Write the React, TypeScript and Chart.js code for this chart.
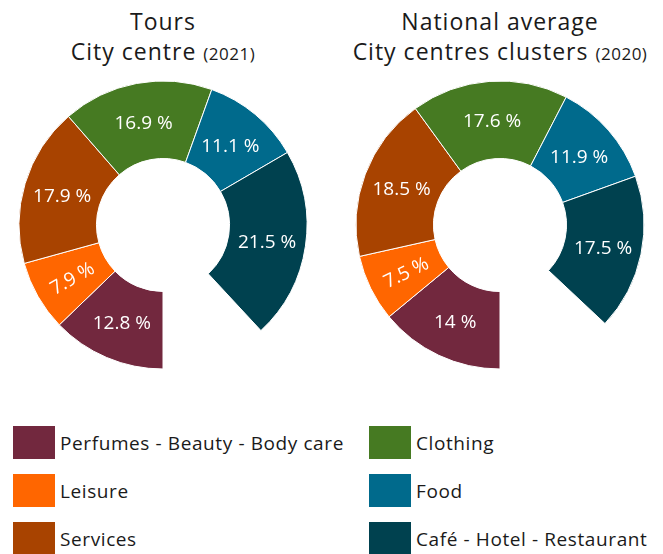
import React, { useEffect, useRef } from "react";
import { Chart, registerables } from "chart.js";

Chart.register(...registerables);

const categories = [
  "Perfumes - Beauty - Body care",
  "Leisure",
  "Services",
  "Clothing",
  "Food",
  "Café - Hotel - Restaurant",
];
const toursValues = [12.8, 7.9, 17.9, 16.9, 11.1, 21.5];
const nationalValues = [14, 7.5, 18.5, 17.6, 11.9, 17.5];
const colors = ["#72283E", "#FF6600", "#A84300", "#467A22", "#006A8C", "#00414F"];

const FONT = "'Open Sans', sans-serif";

const labelPlugin = {
  id: "sliceLabels",
  afterDatasetsDraw(chart: any) {
    const ctx = chart.ctx;
    const ds = chart.data.datasets[0];
    const meta = chart.getDatasetMeta(0);
    meta.data.forEach((arc: any, i: number) => {
      const p = arc.getProps(["x", "y", "startAngle", "endAngle", "innerRadius", "outerRadius"], true);
      const a = (p.startAngle + p.endAngle) / 2;
      const r = (p.innerRadius + p.outerRadius) / 2;
      const x = p.x + Math.cos(a) * r;
      const y = p.y + Math.sin(a) * r;
      const v = ds.data[i];
      ctx.save();
      ctx.translate(x, y);
      if (v < 10) {
        let rot = a;
        while (rot > Math.PI / 2) rot -= Math.PI;
        while (rot <= -Math.PI / 2) rot += Math.PI;
        ctx.rotate(rot);
      }
      ctx.fillStyle = "#ffffff";
      ctx.font = `19px ${FONT}`;
      ctx.textAlign = "center";
      ctx.textBaseline = "middle";
      ctx.fillText(`${v} %`, 0, 2);
      ctx.restore();
    });
  },
};

function Donut({ values, left }: { values: number[]; left: number }) {
  const ref = useRef<HTMLCanvasElement>(null);
  useEffect(() => {
    if (!ref.current) return;
    const total = values.reduce((s, v) => s + v, 0);
    const chart = new Chart(ref.current, {
      type: "doughnut",
      data: {
        labels: categories,
        datasets: [
          {
            data: values,
            backgroundColor: colors,
            borderColor: "#ffffff",
            borderWidth: 1,
          },
        ],
      },
      options: {
        responsive: false,
        animation: false,
        events: [],
        rotation: 180,
        circumference: (360 * total) / 100,
        radius: 144,
        cutout: "46.2%",
        layout: { padding: 0 },
        plugins: { legend: { display: false }, tooltip: { enabled: false }, title: { display: false } },
      } as any,
      plugins: [labelPlugin],
    });
    return () => chart.destroy();
  }, [values]);
  return (
    <canvas
      ref={ref}
      width={300}
      height={300}
      style={{ position: "absolute", left, top: 75, width: 300, height: 300 }}
    />
  );
}

function Title({ line1, line2, year, center }: { line1: string; line2: string; year: string; center: number }) {
  return (
    <div
      style={{
        position: "absolute",
        left: center - 200,
        width: 400,
        top: 6,
        textAlign: "center",
        fontFamily: FONT,
        fontSize: 23,
        lineHeight: "30px",
        letterSpacing: "1px",
        color: "#1a1a1a",
      }}
    >
      <div>{line1}</div>
      <div>
        {line2} <span style={{ fontSize: 17, letterSpacing: "0.5px" }}>{year}</span>
      </div>
    </div>
  );
}

function LegendItem({ label, color, x, y }: { label: string; color: string; x: number; y: number }) {
  return (
    <div
      style={{
        position: "absolute",
        left: x,
        top: y,
        height: 33,
        display: "flex",
        alignItems: "center",
        fontFamily: FONT,
        fontSize: 19,
        letterSpacing: "0.6px",
        color: "#1a1a1a",
        whiteSpace: "nowrap",
      }}
    >
      <div style={{ width: 42, height: 33, background: color, marginRight: 5 }} />
      <span>{label}</span>
    </div>
  );
}

export default function App() {
  const rowsY = [426, 474, 522];
  return (
    <div
      style={{
        position: "absolute",
        left: 0,
        top: 0,
        width: 663,
        height: 554,
        overflow: "hidden",
        background: "#ffffff",
      }}
    >
      <Title line1="Tours" line2="City centre" year="(2021)" center={163} />
      <Title line1="National average" line2="City centres clusters" year="(2020)" center={500} />
      <Donut values={toursValues} left={13} />
      <Donut values={nationalValues} left={350} />
      {categories.map((c, i) => (
        <LegendItem
          key={c}
          label={c}
          color={colors[i]}
          x={i < 3 ? 13 : 369}
          y={rowsY[i % 3]}
        />
      ))}
    </div>
  );
}
